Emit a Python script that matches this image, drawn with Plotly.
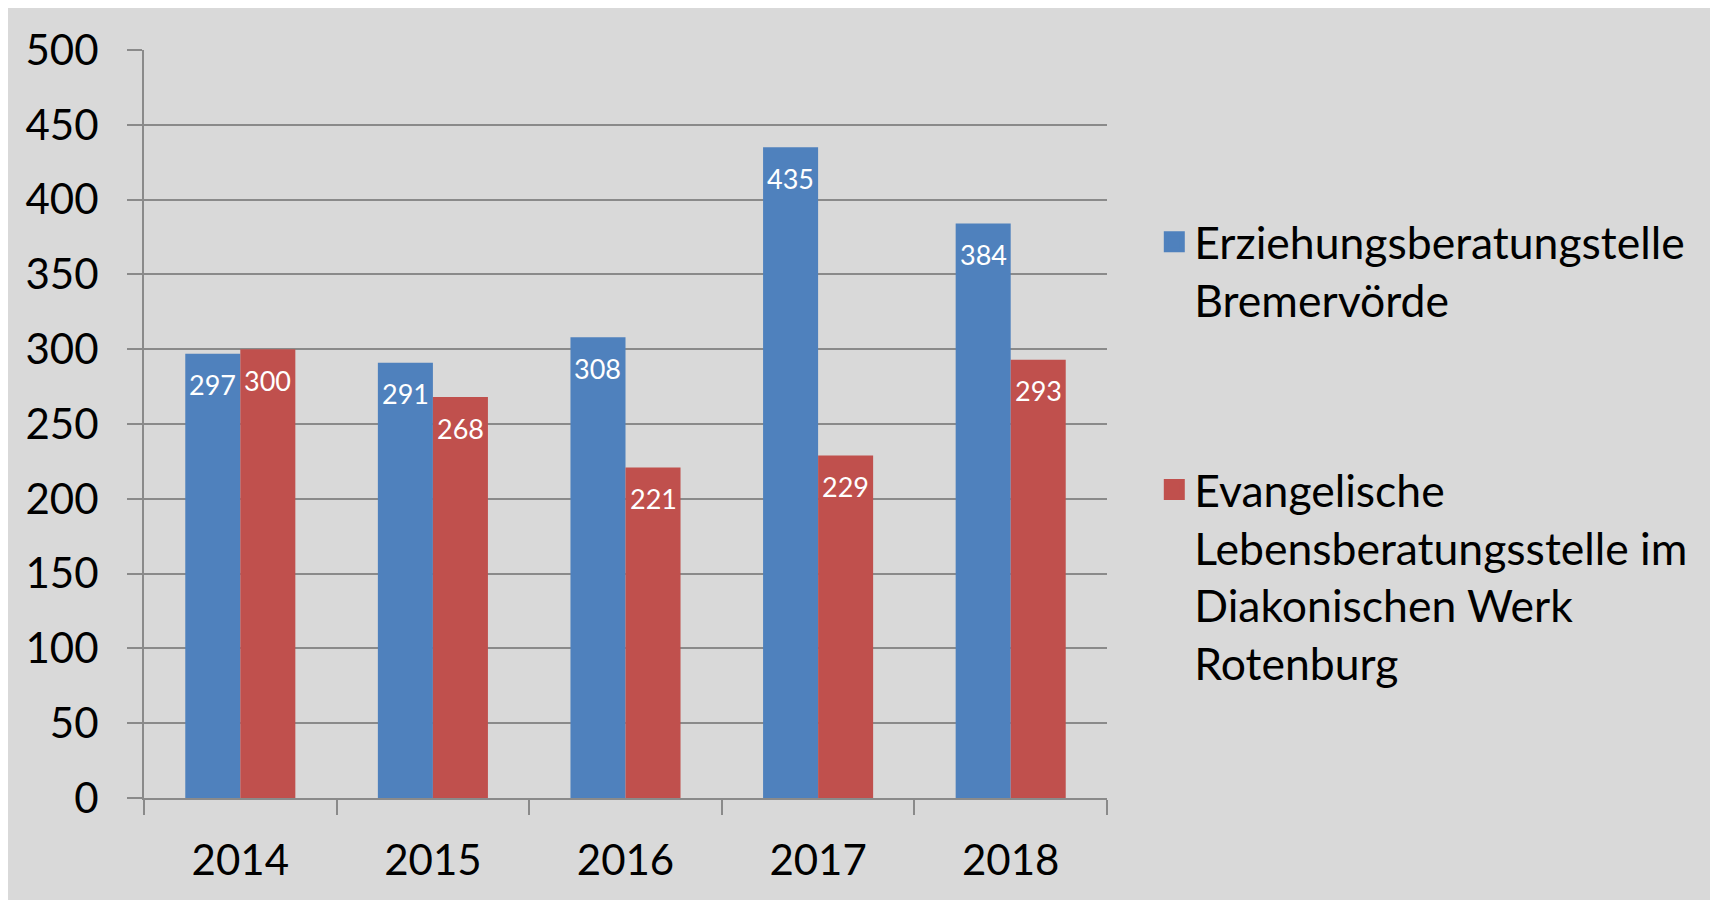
import plotly.graph_objects as go

years = ["2014", "2015", "2016", "2017", "2018"]
series_names = [
    "Erziehungsberatungstelle<br>Bremervörde",
    "Evangelische<br>Lebensberatungsstelle im<br>Diakonischen Werk<br>Rotenburg",
]
erziehung = [297, 291, 308, 435, 384]
evangelisch = [300, 268, 221, 229, 293]
y_ticks = [0, 50, 100, 150, 200, 250, 300, 350, 400, 450, 500]

BLUE = "#4f81bd"
RED = "#c0504d"
GRID = "#8a8a8a"
BG = "#d9d9d9"
FONT = "Lato"

W, H = 1718, 900
L, R, T, B = 135.5, 619.3, 41.5, 109.5
pw = W - L - R
ph = H - T - B
BARGAP = 0.4286
bar_px = (pw / len(years)) * (1 - BARGAP) / 2

fig = go.Figure()
series = [
    (series_names[0], erziehung, BLUE, "a", -1),
    (series_names[1], evangelisch, RED, "b", 1),
]
for name, vals, col, grp, side in series:
    fig.add_trace(go.Bar(
        x=years, y=vals, name=name, marker=dict(color=col, line=dict(width=0)),
        legendgroup=grp, showlegend=False,
        hovertemplate="%{x}: %{y}<extra></extra>",
    ))
    # legend entry (larger square symbol)
    fig.add_trace(go.Scatter(
        x=[years[0]], y=[None], mode="markers", name=name, legendgroup=grp,
        marker=dict(symbol="square", size=16, color=col, line=dict(color=col, width=5)),
        showlegend=True, hoverinfo="skip",
    ))
    # data labels inside the top end of each bar (category index on the x axis)
    for i, v in enumerate(vals):
        fig.add_annotation(
            x=i, y=v, xref="x", yref="y", text=str(v), showarrow=False,
            xshift=side * bar_px / 2, yshift=-31, yanchor="middle", xanchor="center",
            font=dict(family=FONT, size=27, color="white"),
        )

fig.update_layout(
    width=W, height=H,
    margin=dict(l=L, r=R, t=T, b=B, autoexpand=False),
    paper_bgcolor=BG, plot_bgcolor=BG,
    barmode="group", bargap=BARGAP, bargroupgap=0,
    font=dict(family=FONT, size=42, color="black"),
    legend=dict(
        x=(1146 - L) / pw, xanchor="left",
        y=(H - B - 198) / ph, yanchor="top",
        font=dict(family=FONT, size=44.5, color="black"),
        valign="top", tracegroupgap=129, traceorder="grouped",
        bgcolor="rgba(0,0,0,0)",
    ),
    showlegend=True,
)
fig.update_xaxes(
    type="category", categoryorder="array", categoryarray=years,
    range=[-0.5, len(years) - 0.5], autorange=False,
    showgrid=False, showline=True, linecolor=GRID, linewidth=2,
    ticks="outside", tickson="boundaries", ticklen=15, tickcolor=GRID, tickwidth=2,
    tickfont=dict(family=FONT, size=42, color="black"), ticklabelstandoff=25,
)
fig.update_yaxes(
    range=[0, 500], tickvals=y_ticks, showgrid=True, gridcolor=GRID, gridwidth=1.5,
    showline=True, linecolor=GRID, linewidth=2, zeroline=False,
    ticks="outside", ticklen=15, tickcolor=GRID, tickwidth=1.5,
    tickfont=dict(family=FONT, size=42, color="black"), ticklabelstandoff=20,
)

fig.write_html("out.html")
